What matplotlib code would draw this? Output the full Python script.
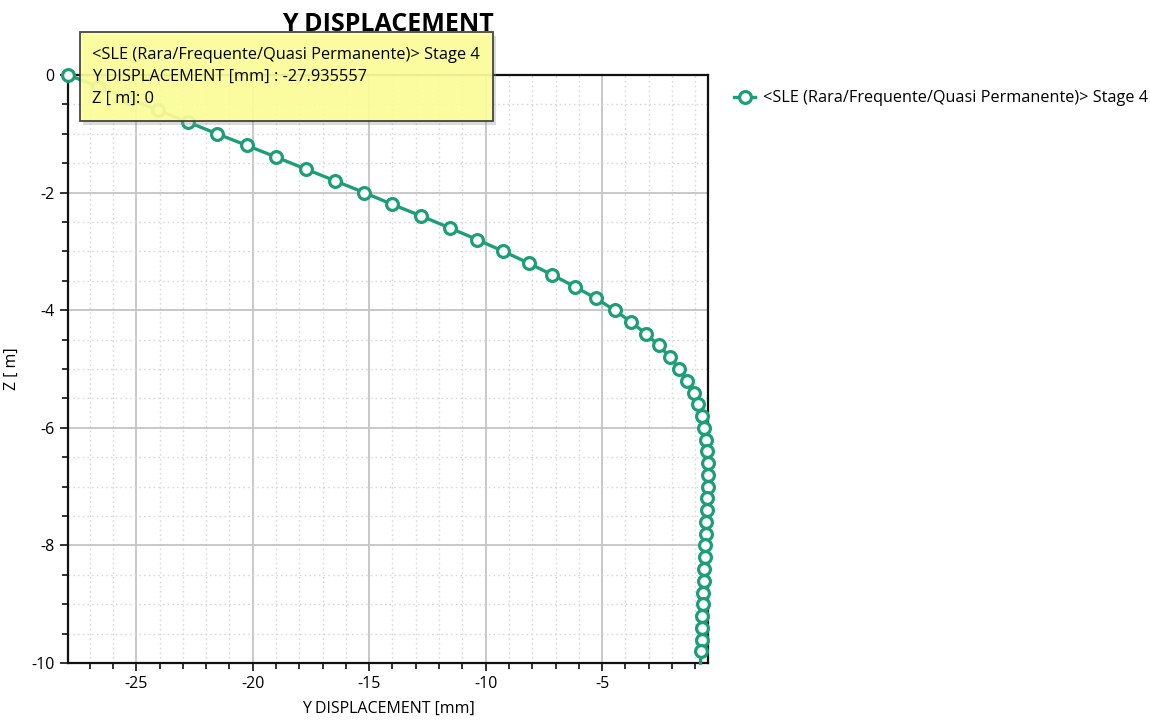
import matplotlib.pyplot as plt
from matplotlib.patches import Rectangle
from matplotlib.ticker import MultipleLocator

plt.rcParams['font.family'] = ['Open Sans', 'DejaVu Sans']
plt.rcParams['axes.unicode_minus'] = False

# Z [m] depth and Y displacement [mm] for SLE Stage 4
z = [0.0, -0.2, -0.4, -0.6, -0.8, -1.0, -1.2, -1.4, -1.6, -1.8,
     -2.0, -2.2, -2.4, -2.6, -2.8, -3.0, -3.2, -3.4, -3.6, -3.8,
     -4.0, -4.2, -4.4, -4.6, -4.8, -5.0, -5.2, -5.4, -5.6, -5.8,
     -6.0, -6.2, -6.4, -6.6, -6.8, -7.0, -7.2, -7.4, -7.6, -7.8,
     -8.0, -8.2, -8.4, -8.6, -8.8, -9.0, -9.2, -9.4, -9.6, -9.8, -10.0]
y_disp = [-27.935557, -26.62, -25.33, -24.08, -22.79, -21.54, -20.25, -18.98, -17.73, -16.47,
          -15.22, -14.02, -12.76, -11.55, -10.37, -9.24, -8.16, -7.14, -6.18, -5.26,
          -4.47, -3.76, -3.13, -2.57, -2.08, -1.69, -1.35, -1.06, -0.90, -0.72,
          -0.62, -0.55, -0.50, -0.46, -0.44, -0.44, -0.48, -0.51, -0.54, -0.56,
          -0.58, -0.60, -0.63, -0.65, -0.67, -0.68, -0.70, -0.71, -0.73, -0.76, -0.78]

series_name = "<SLE (Rara/Frequente/Quasi Permanente)> Stage 4"
color = "#1e9e78"

fig = plt.figure(figsize=(11.5, 7.2), dpi=100)
ax = fig.add_axes([0.059, 0.079, 0.557, 0.817])

ax.plot(y_disp, z, color=color, lw=2.4, marker='o', ms=8.5, mfc='white',
        mec=color, mew=2.3, markevery=slice(0, len(z) - 1), clip_on=False,
        zorder=3, label=series_name)

ax.set_xlim(min(y_disp), max(y_disp))
ax.set_ylim(-10, 0)
ax.xaxis.set_major_locator(MultipleLocator(5))
ax.xaxis.set_minor_locator(MultipleLocator(1))
ax.yaxis.set_major_locator(MultipleLocator(2))
ax.yaxis.set_minor_locator(MultipleLocator(0.5))
ax.grid(which='major', color='#c4c4c4', lw=1.3)
ax.grid(which='minor', color='#d8d8d8', lw=1, ls=(0, (1.2, 2.2)))
ax.set_axisbelow(True)
ax.tick_params(which='major', length=6, width=1.3, labelsize=11.5, color='#222222')
ax.tick_params(which='minor', length=4, width=1.3, color='#222222')
for s in ax.spines.values():
    s.set_linewidth(1.6)
    s.set_color('#111111')

ax.set_xlabel("Y DISPLACEMENT [mm]", fontsize=11.5, labelpad=6)
ax.set_ylabel("Z [ m]", fontsize=11.5)
ax.yaxis.set_label_coords(-0.075, 0.5)
fig.text(0.337, 0.966, "Y DISPLACEMENT", ha='center', va='center',
         fontsize=18, fontweight='bold')

ax.legend(loc='upper left', bbox_to_anchor=(1.03, 0.985), frameon=False,
          fontsize=11.7, handlelength=1.3, handletextpad=0.5, borderaxespad=0)

# tooltip box
fig.patches.append(Rectangle((0.0725, 0.826), 0.359, 0.1236, transform=fig.transFigure,
                             fc='#999999', ec='none', alpha=0.35, zorder=9))
fig.patches.append(Rectangle((0.0696, 0.832), 0.359, 0.1236, transform=fig.transFigure,
                             fc='#ffff99', ec='#333333', lw=1.3, alpha=0.9, zorder=10))
tip = ("<SLE (Rara/Frequente/Quasi Permanente)> Stage 4\n"
       "Y DISPLACEMENT [mm] : -27.935557\n"
       "Z [ m]: 0")
fig.text(0.08, 0.893, tip, ha='left', va='center', fontsize=11.8,
         linespacing=1.5, zorder=11)

fig.savefig("out.png", dpi=100)
